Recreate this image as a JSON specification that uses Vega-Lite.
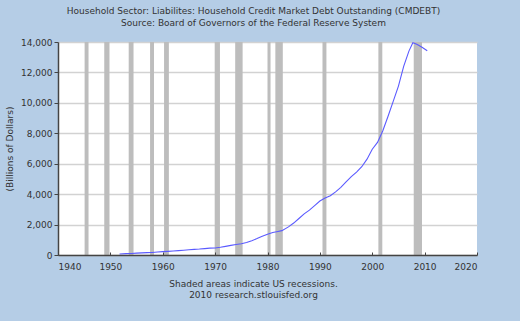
{
  "$schema": "https://vega.github.io/schema/vega-lite/v6.json",
  "width": 419,
  "height": 213,
  "autosize": {"type": "none"},
  "padding": {"left": 58, "top": 42, "right": 43, "bottom": 66},
  "background": "#b5cde6",
  "config": {
    "font": "DejaVu Sans",
    "view": {"fill": "white", "stroke": null},
    "axis": {
      "labelFont": "DejaVu Sans",
      "labelFontSize": 9,
      "labelColor": "#333333",
      "titleFont": "DejaVu Sans",
      "titleFontSize": 9,
      "titleFontWeight": "normal",
      "titleColor": "#333333",
      "domainColor": "#444444",
      "domainWidth": 1.5,
      "tickColor": "#444444"
    }
  },
  "title": {
    "text": ["Household Sector: Liabilites: Household Credit Market Debt Outstanding (CMDEBT)", "Source: Board of Governors of the Federal Reserve System"],
    "font": "DejaVu Sans",
    "fontSize": 9,
    "fontWeight": "normal",
    "color": "#333333",
    "lineHeight": 12,
    "anchor": "middle",
    "dx": -14,
    "offset": 10
  },
  "datasets": {
    "debt": [
      {"year": 1951.75, "value": 70},
      {"year": 1953, "value": 92},
      {"year": 1954, "value": 103},
      {"year": 1955, "value": 125},
      {"year": 1956, "value": 140},
      {"year": 1957, "value": 155},
      {"year": 1958, "value": 168},
      {"year": 1959, "value": 195},
      {"year": 1960, "value": 220},
      {"year": 1961, "value": 240},
      {"year": 1962, "value": 260},
      {"year": 1963, "value": 285},
      {"year": 1964, "value": 315},
      {"year": 1965, "value": 345},
      {"year": 1966, "value": 370},
      {"year": 1967, "value": 390},
      {"year": 1968, "value": 420},
      {"year": 1969, "value": 450},
      {"year": 1970, "value": 465},
      {"year": 1971, "value": 505},
      {"year": 1972, "value": 565},
      {"year": 1973, "value": 630},
      {"year": 1974, "value": 685},
      {"year": 1975, "value": 740},
      {"year": 1976, "value": 820},
      {"year": 1977, "value": 940},
      {"year": 1978, "value": 1080},
      {"year": 1979, "value": 1230},
      {"year": 1980, "value": 1370},
      {"year": 1981, "value": 1480},
      {"year": 1982, "value": 1550},
      {"year": 1982.75, "value": 1600},
      {"year": 1984, "value": 1850},
      {"year": 1985, "value": 2100},
      {"year": 1986, "value": 2400},
      {"year": 1987, "value": 2700},
      {"year": 1988, "value": 2950},
      {"year": 1989, "value": 3250},
      {"year": 1990, "value": 3550},
      {"year": 1991, "value": 3750},
      {"year": 1992, "value": 3900},
      {"year": 1993, "value": 4150},
      {"year": 1994, "value": 4450},
      {"year": 1995, "value": 4800},
      {"year": 1996, "value": 5150},
      {"year": 1997, "value": 5450},
      {"year": 1998, "value": 5800},
      {"year": 1999, "value": 6300},
      {"year": 2000, "value": 6950},
      {"year": 2001, "value": 7400},
      {"year": 2002, "value": 8150},
      {"year": 2003, "value": 9100},
      {"year": 2004, "value": 10100},
      {"year": 2005, "value": 11100},
      {"year": 2006, "value": 12400},
      {"year": 2007, "value": 13400},
      {"year": 2007.75, "value": 13950},
      {"year": 2008.5, "value": 13850},
      {"year": 2009.5, "value": 13650},
      {"year": 2010.5, "value": 13420}
    ],
    "recessions": [
      {"start": 1945.08, "end": 1945.83},
      {"start": 1948.83, "end": 1949.83},
      {"start": 1953.5, "end": 1954.42},
      {"start": 1957.58, "end": 1958.33},
      {"start": 1960.25, "end": 1961.17},
      {"start": 1969.92, "end": 1970.92},
      {"start": 1973.83, "end": 1975.25},
      {"start": 1980.0, "end": 1980.58},
      {"start": 1981.5, "end": 1982.92},
      {"start": 1990.5, "end": 1991.25},
      {"start": 2001.17, "end": 2001.92},
      {"start": 2007.92, "end": 2009.5}
    ]
  },
  "layer": [
    {
      "data": {"name": "recessions"},
      "mark": {"type": "rect", "color": "#bdbdbd"},
      "encoding": {
        "x": {"field": "start", "type": "quantitative", "scale": {"domain": [1940, 2020], "nice": false, "zero": false},
          "axis": {
            "values": [1940, 1950, 1960, 1970, 1980, 1990, 2000, 2010, 2020],
            "format": "d",
            "grid": false,
            "tickSize": -3,
            "zindex": 1,
            "labelPadding": 10,
            "title": ["Shaded areas indicate US recessions.", "2010 research.stlouisfed.org"],
            "titleLineHeight": 11,
            "titlePadding": 8,
            "titleX": 195
          }},
        "x2": {"field": "end"}
      }
    },
    {
      "data": {"name": "debt"},
      "mark": {"type": "line", "color": "#5a5aff", "strokeWidth": 1.1},
      "encoding": {
        "x": {"field": "year", "type": "quantitative"},
        "y": {"field": "value", "type": "quantitative",
          "scale": {"domain": [0, 14000], "nice": false},
          "axis": {
            "values": [0, 2000, 4000, 6000, 8000, 10000, 12000, 14000],
            "format": ",d",
            "grid": true,
            "gridColor": "#d2d2d2",
            "gridWidth": 1.5,
            "tickSize": 4,
            "labelPadding": 2,
            "title": "(Billions of Dollars)",
            "titlePadding": 6
          }}
      }
    }
  ]
}
